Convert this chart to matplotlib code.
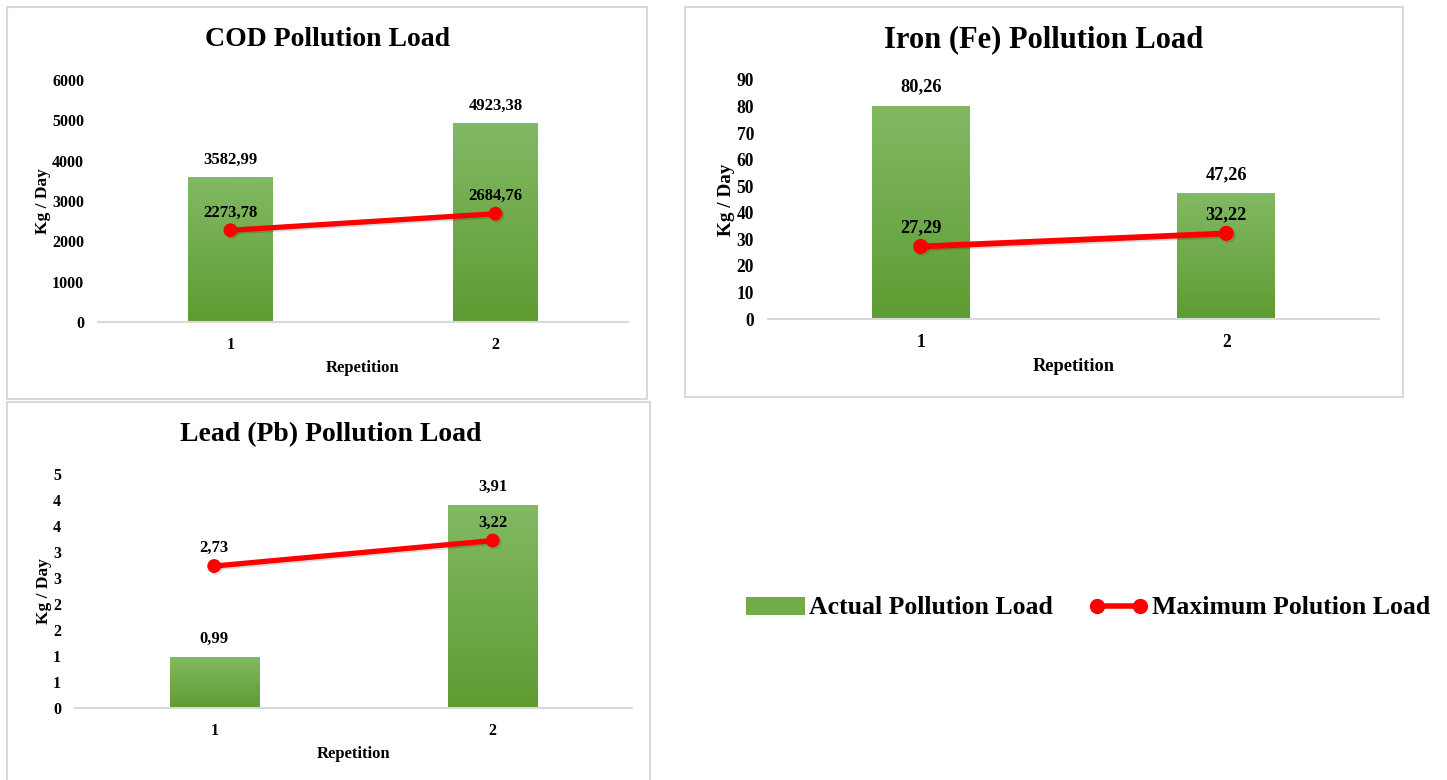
import numpy as np
import matplotlib
matplotlib.use('Agg')
import matplotlib.pyplot as plt
from matplotlib.patches import Rectangle, Patch
from matplotlib.lines import Line2D
import matplotlib.patheffects as pe

plt.rcParams['font.family'] = ['Liberation Serif', 'DejaVu Serif']
plt.rcParams['font.weight'] = 'bold'

# data
repetitions = ['1', '2']
cod_actual = [3582.99, 4923.38]
cod_max = [2273.78, 2684.76]
fe_actual = [80.26, 47.26]
fe_max = [27.29, 32.22]
pb_actual = [0.99, 3.91]
pb_max = [2.73, 3.22]

cod_ticks = [0, 1000, 2000, 3000, 4000, 5000, 6000]
fe_ticks = [0, 10, 20, 30, 40, 50, 60, 70, 80, 90]
pb_ticks = [0, 0.5, 1, 1.5, 2, 2.5, 3, 3.5, 4, 4.5]
pb_ticklabels = ['0', '1', '1', '2', '2', '3', '3', '4', '4', '5']

titles = ['COD Pollution Load', 'Iron (Fe) Pollution Load', 'Lead (Pb) Pollution Load']

W, H = 1447, 780
fig = plt.figure(figsize=(W / 100, H / 100), dpi=100)

GREEN_TOP = np.array([0x82, 0xb9, 0x64]) / 255
GREEN_BOT = np.array([0x5e, 0x9c, 0x32]) / 255
grad = np.linspace(0, 1, 100)[:, None, None]
grad_img = GREEN_TOP * (1 - grad) + GREEN_BOT * grad  # top row first


def px_axes(x0, x1, ytop, ybot):
    return fig.add_axes([x0 / W, 1 - ybot / H, (x1 - x0) / W, (ybot - ytop) / H])


def fmt(v):
    return f'{v:.2f}'.replace('.', ',')


def draw_panel(ax, actual, maxload, ticks, ticklabels, ymax, k=1.0):
    x = np.arange(len(repetitions))
    bars = ax.bar(x, actual, width=0.32, color='#70ad47', zorder=2)
    for b in bars:
        x0, w, h = b.get_x(), b.get_width(), b.get_height()
        im = ax.imshow(grad_img, extent=(x0, x0 + w, 0, h), aspect='auto',
                       origin='upper', zorder=2.1, interpolation='bilinear')
        im.set_clip_path(b)
    ax.plot(x, maxload, color='#ff0000', lw=3.8 * k, marker='o', ms=9 * k, zorder=3,
            solid_capstyle='round',
            path_effects=[pe.SimpleLineShadow(offset=(1.2, -1.2), alpha=0.15), pe.Normal()])
    for xi, v in zip(x, actual):
        ax.annotate(fmt(v), (xi, v), xytext=(0, 7 * k), textcoords='offset points',
                    ha='center', va='bottom', fontsize=12 * k, fontweight='bold')
    for xi, v in zip(x, maxload):
        ax.annotate(fmt(v), (xi, v), xytext=(0, 7 * k), textcoords='offset points',
                    ha='center', va='bottom', fontsize=12 * k, fontweight='bold')
    ax.set_xlim(-0.5, len(repetitions) - 0.5)
    ax.set_ylim(0, ymax)
    ax.set_xticks(x)
    ax.set_xticklabels(repetitions)
    ax.set_yticks(ticks)
    ax.set_yticklabels(ticklabels)
    ax.tick_params(length=0, labelsize=11.5 * k, pad=10)
    ax.tick_params(axis='x', pad=11)
    for s in ['top', 'right', 'left']:
        ax.spines[s].set_visible(False)
    ax.spines['bottom'].set_color('#d9d9d9')
    ax.spines['bottom'].set_linewidth(1.5)
    ax.set_ylabel('Kg / Day', fontsize=12.5 * k, fontweight='bold', labelpad=1)
    ax.set_xlabel('Repetition', fontsize=12 * k, fontweight='bold', labelpad=5)
    return bars


# panel borders
for (x0, y0, x1, y1) in [(7, 7, 647, 399), (685, 7, 1403, 397), (7, 402, 650, 790)]:
    fig.patches.append(Rectangle((x0 / W, 1 - y1 / H), (x1 - x0) / W, (y1 - y0) / H,
                                 transform=fig.transFigure, fill=False,
                                 edgecolor='#d9d9d9', lw=1.5, zorder=0))

ax1 = px_axes(98, 628, 80, 322)
draw_panel(ax1, cod_actual, cod_max, cod_ticks, [str(t) for t in cod_ticks], 6000)
ax2 = px_axes(768, 1379, 80, 319)
draw_panel(ax2, fe_actual, fe_max, fe_ticks, [str(t) for t in fe_ticks], 90, k=1.1)
ax3 = px_axes(75, 632, 474, 708)
draw_panel(ax3, pb_actual, pb_max, pb_ticks, pb_ticklabels, 4.5)

for t, (cx, cy), fs in zip(titles, [(328, 40), (1044, 40), (331, 435)], [20, 22, 20]):
    fig.text(cx / W, 1 - cy / H, t, ha='center', va='center', fontsize=fs, fontweight='bold')

handles = [Patch(facecolor='#70ad47', edgecolor='none'),
           Line2D([], [], color='#ff0000', lw=4, marker='o', ms=10)]
fig.legend(handles, ['Actual Pollution Load', 'Maximum Polution Load'],
           loc='center', bbox_to_anchor=(1088 / W, 1 - 608 / H), ncol=2, frameon=False,
           prop={'size': 18.5, 'weight': 'bold'}, handlelength=2.3, handletextpad=0.15,
           columnspacing=1.4, numpoints=2)

fig.savefig('out.png', dpi=100)
